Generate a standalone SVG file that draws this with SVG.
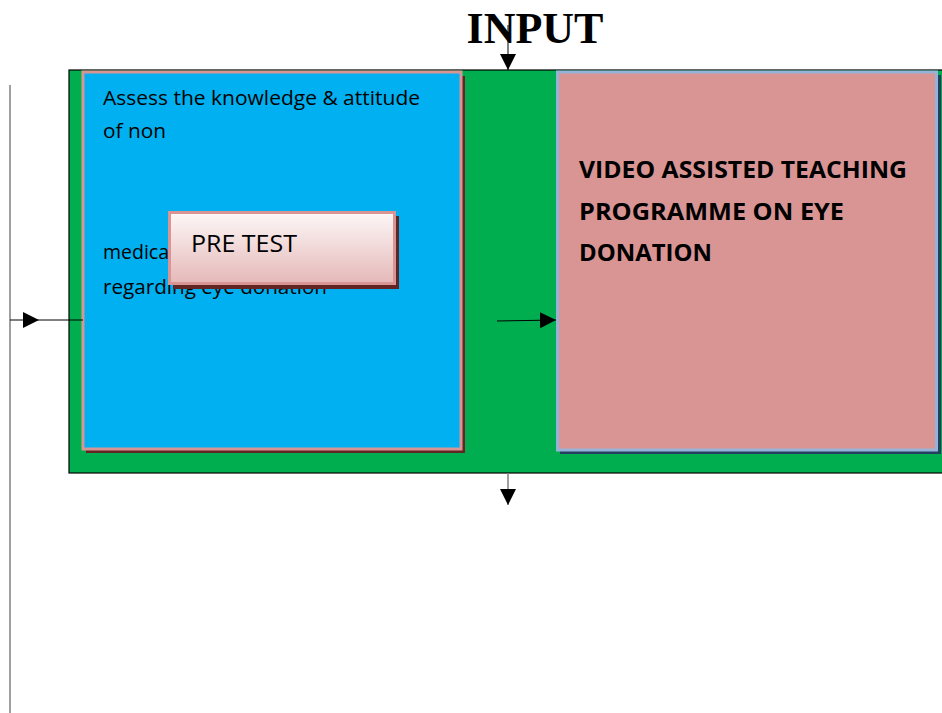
<svg xmlns="http://www.w3.org/2000/svg" width="942" height="713" viewBox="0 0 942 713">
<defs>
<style>
.body{font-family:"Open Sans","Liberation Sans",sans-serif;font-size:20px;fill:#000}
.bold{font-family:"Open Sans","Liberation Sans",sans-serif;font-size:24px;font-weight:bold;fill:#000}
.conn{stroke:#000;stroke-width:1;fill:none}
.grayline{stroke:#808080;stroke-width:1.5;fill:none}
</style>
<marker id="arr" viewBox="0 0 10 10" refX="10" refY="5" markerWidth="16" markerHeight="16" markerUnits="userSpaceOnUse" orient="auto">
<path d="M0,0 L10,5 L0,10 Z" fill="#000"/>
</marker>
<linearGradient id="pg" x1="0" y1="0" x2="0" y2="1">
<stop offset="0" stop-color="#fdf7f7"/>
<stop offset="1" stop-color="#e5b8b8"/>
</linearGradient>
</defs>
<rect width="942" height="713" fill="#fff"/>
<g id="frame">
<rect x="69" y="70" width="880" height="403" fill="#00ae4f" stroke="#000" stroke-width="1.2"/>
</g>
<g id="assess">
<rect x="86" y="76" width="379" height="377" fill="#632523"/>
<rect x="83" y="72" width="378" height="377" fill="#00b0f0" stroke="#d99594" stroke-width="3"/>
<text class="body" x="103" y="105" textLength="317" lengthAdjust="spacingAndGlyphs">Assess the knowledge &amp; attitude</text>
<text class="body" x="103" y="138" textLength="63" lengthAdjust="spacingAndGlyphs">of non</text>
<text class="body" x="103" y="259" textLength="66" lengthAdjust="spacingAndGlyphs">medica</text>
<text class="body" x="103" y="294" textLength="224" lengthAdjust="spacingAndGlyphs">regarding eye donation</text>
</g>
<g id="pretest">
<rect x="173" y="216" width="226" height="73" fill="#632523"/>
<rect x="169.5" y="212.5" width="225" height="71" fill="url(#pg)" stroke="#d99594" stroke-width="3"/>
<text class="body" x="191" y="252" style="font-size:24px" textLength="106" lengthAdjust="spacingAndGlyphs">PRE TEST</text>
</g>
<g id="video">
<rect x="560" y="75" width="381" height="379" fill="#243f60"/>
<rect x="557.5" y="72" width="379" height="378" fill="#d99594" stroke="#95b3d7" stroke-width="3"/>
<text class="bold" x="579" y="178" textLength="328" lengthAdjust="spacingAndGlyphs">VIDEO ASSISTED TEACHING</text>
<text class="bold" x="579" y="220" textLength="265" lengthAdjust="spacingAndGlyphs">PROGRAMME ON EYE</text>
<text class="bold" x="579" y="261" textLength="133" lengthAdjust="spacingAndGlyphs">DONATION</text>
</g>
<g id="title">
<text x="535" y="43" text-anchor="middle" style="font-family:'Liberation Serif',serif;font-size:44px;font-weight:bold;fill:#000">INPUT</text>
</g>
<g id="connectors">
<line class="grayline" x1="10" y1="85" x2="10" y2="713"/>
<line class="conn" x1="508" y1="25" x2="508" y2="70" marker-end="url(#arr)"/>
<line class="conn" x1="10" y1="320" x2="39" y2="320" marker-end="url(#arr)"/>
<line class="conn" x1="39" y1="320" x2="83" y2="320"/>
<line class="conn" x1="497" y1="321" x2="556" y2="320" marker-end="url(#arr)"/>
<line class="grayline" x1="508" y1="473" x2="508" y2="505" marker-end="url(#arr)"/>
</g>
</svg>
